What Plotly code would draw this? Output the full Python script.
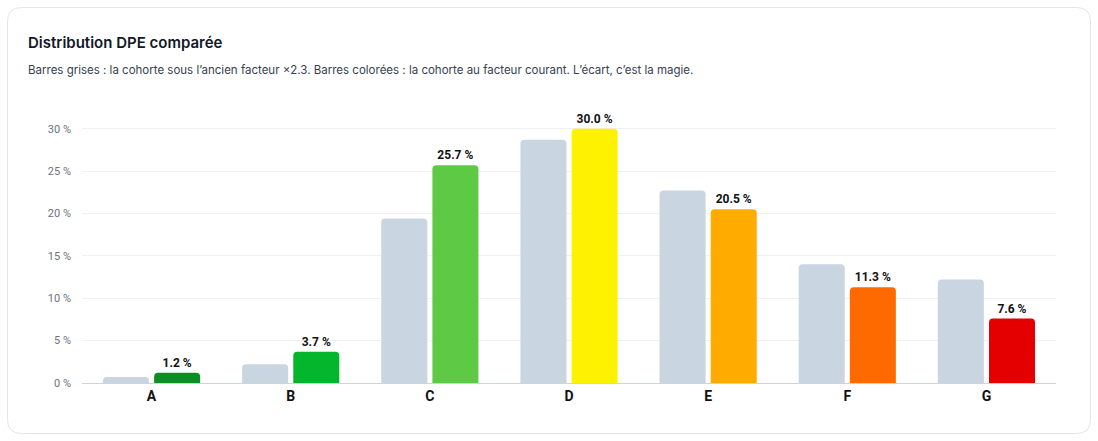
import plotly.graph_objects as go

categories = ["A", "B", "C", "D", "E", "F", "G"]
ancien = [0.7, 2.2, 19.4, 28.7, 22.7, 14.0, 12.2]
courant = [1.2, 3.7, 25.7, 30.0, 20.5, 11.3, 7.6]
couleurs = ["#0a8f22", "#03b62c", "#5dc944", "#fff200", "#ffab00", "#ff6a00", "#e50000"]
y_ticks = [0, 5, 10, 15, 20, 25, 30]
y_tick_labels = ["0 %", "5 %", "10 %", "15 %", "20 %", "25 %", "30 %"]

W, H = 1098, 441
L, R, T, B = 82, 42, 116, 58
pw, ph = W - L - R, H - T - B

def px_x(p):
    return (p - L) / pw

def px_y(p):
    return 1 - (p - T) / ph

FONT = "Inter, Roboto, sans-serif"

fig = go.Figure()
fig.add_trace(go.Bar(
    x=categories, y=ancien, marker=dict(color="#c9d5e0", line=dict(width=0)),
    name="Ancien facteur", hoverinfo="skip",
))
fig.add_trace(go.Bar(
    x=categories, y=courant, marker=dict(color=couleurs, line=dict(width=0)),
    name="Facteur courant", texttemplate="<b>%{y:.1f} %</b>", textposition="outside",
    textfont=dict(size=12, color="#111111", family="Roboto, sans-serif"), cliponaxis=False,
    hoverinfo="skip",
))

# card rounded rectangle
x0, y0, x1, y1, r = 7.5, 7.5, 1090.5, 433.5, 14
def P(x, y):
    return f"{px_x(x):.5f},{px_y(y):.5f}"
path = (f"M {P(x0 + r, y0)} L {P(x1 - r, y0)} Q {P(x1, y0)} {P(x1, y0 + r)} "
        f"L {P(x1, y1 - r)} Q {P(x1, y1)} {P(x1 - r, y1)} L {P(x0 + r, y1)} "
        f"Q {P(x0, y1)} {P(x0, y1 - r)} L {P(x0, y0 + r)} Q {P(x0, y0)} {P(x0 + r, y0)} Z")

fig.update_layout(
    width=W, height=H,
    margin=dict(l=L, r=R, t=T, b=B),
    paper_bgcolor="white", plot_bgcolor="white",
    barmode="group", bargap=0.265, bargroupgap=0.1, barcornerradius=4,
    showlegend=False,
    font=dict(family=FONT),
    shapes=[dict(type="path", path=path, xref="paper", yref="paper",
                 line=dict(color="#e2e5ea", width=1), fillcolor="rgba(0,0,0,0)", layer="below")],
    annotations=[
        dict(text="Distribution DPE comparée", xref="paper", yref="paper",
             x=px_x(26), y=px_y(42), xanchor="left", yanchor="middle", showarrow=False,
             font=dict(size=15, color="#111827", family=FONT, weight=600)),
        dict(text="Barres grises : la cohorte sous l’ancien facteur ×2.3. Barres colorées : la cohorte au facteur courant. L’écart, c’est la magie.",
             xref="paper", yref="paper", x=px_x(26), y=px_y(70), xanchor="left", yanchor="middle",
             showarrow=False, font=dict(size=11.5, color="#374151", family=FONT)),
    ],
    xaxis=dict(showgrid=False, showline=True, linecolor="#cfd3dc", linewidth=1,
               tickfont=dict(size=14, color="#111111", family="Roboto, sans-serif", weight="bold"),
               ticks="", fixedrange=True),
    yaxis=dict(range=[0, 31.5], tickvals=y_ticks, ticktext=y_tick_labels,
               showgrid=True, gridcolor="#eef0f3", gridwidth=1, zeroline=False,
               tickfont=dict(size=11, color="#6b7280", family="Roboto, sans-serif"),
               ticks="", ticklen=0, fixedrange=True),
)
fig.update_yaxes(ticklabelstandoff=10)

fig.write_html("out.html")
